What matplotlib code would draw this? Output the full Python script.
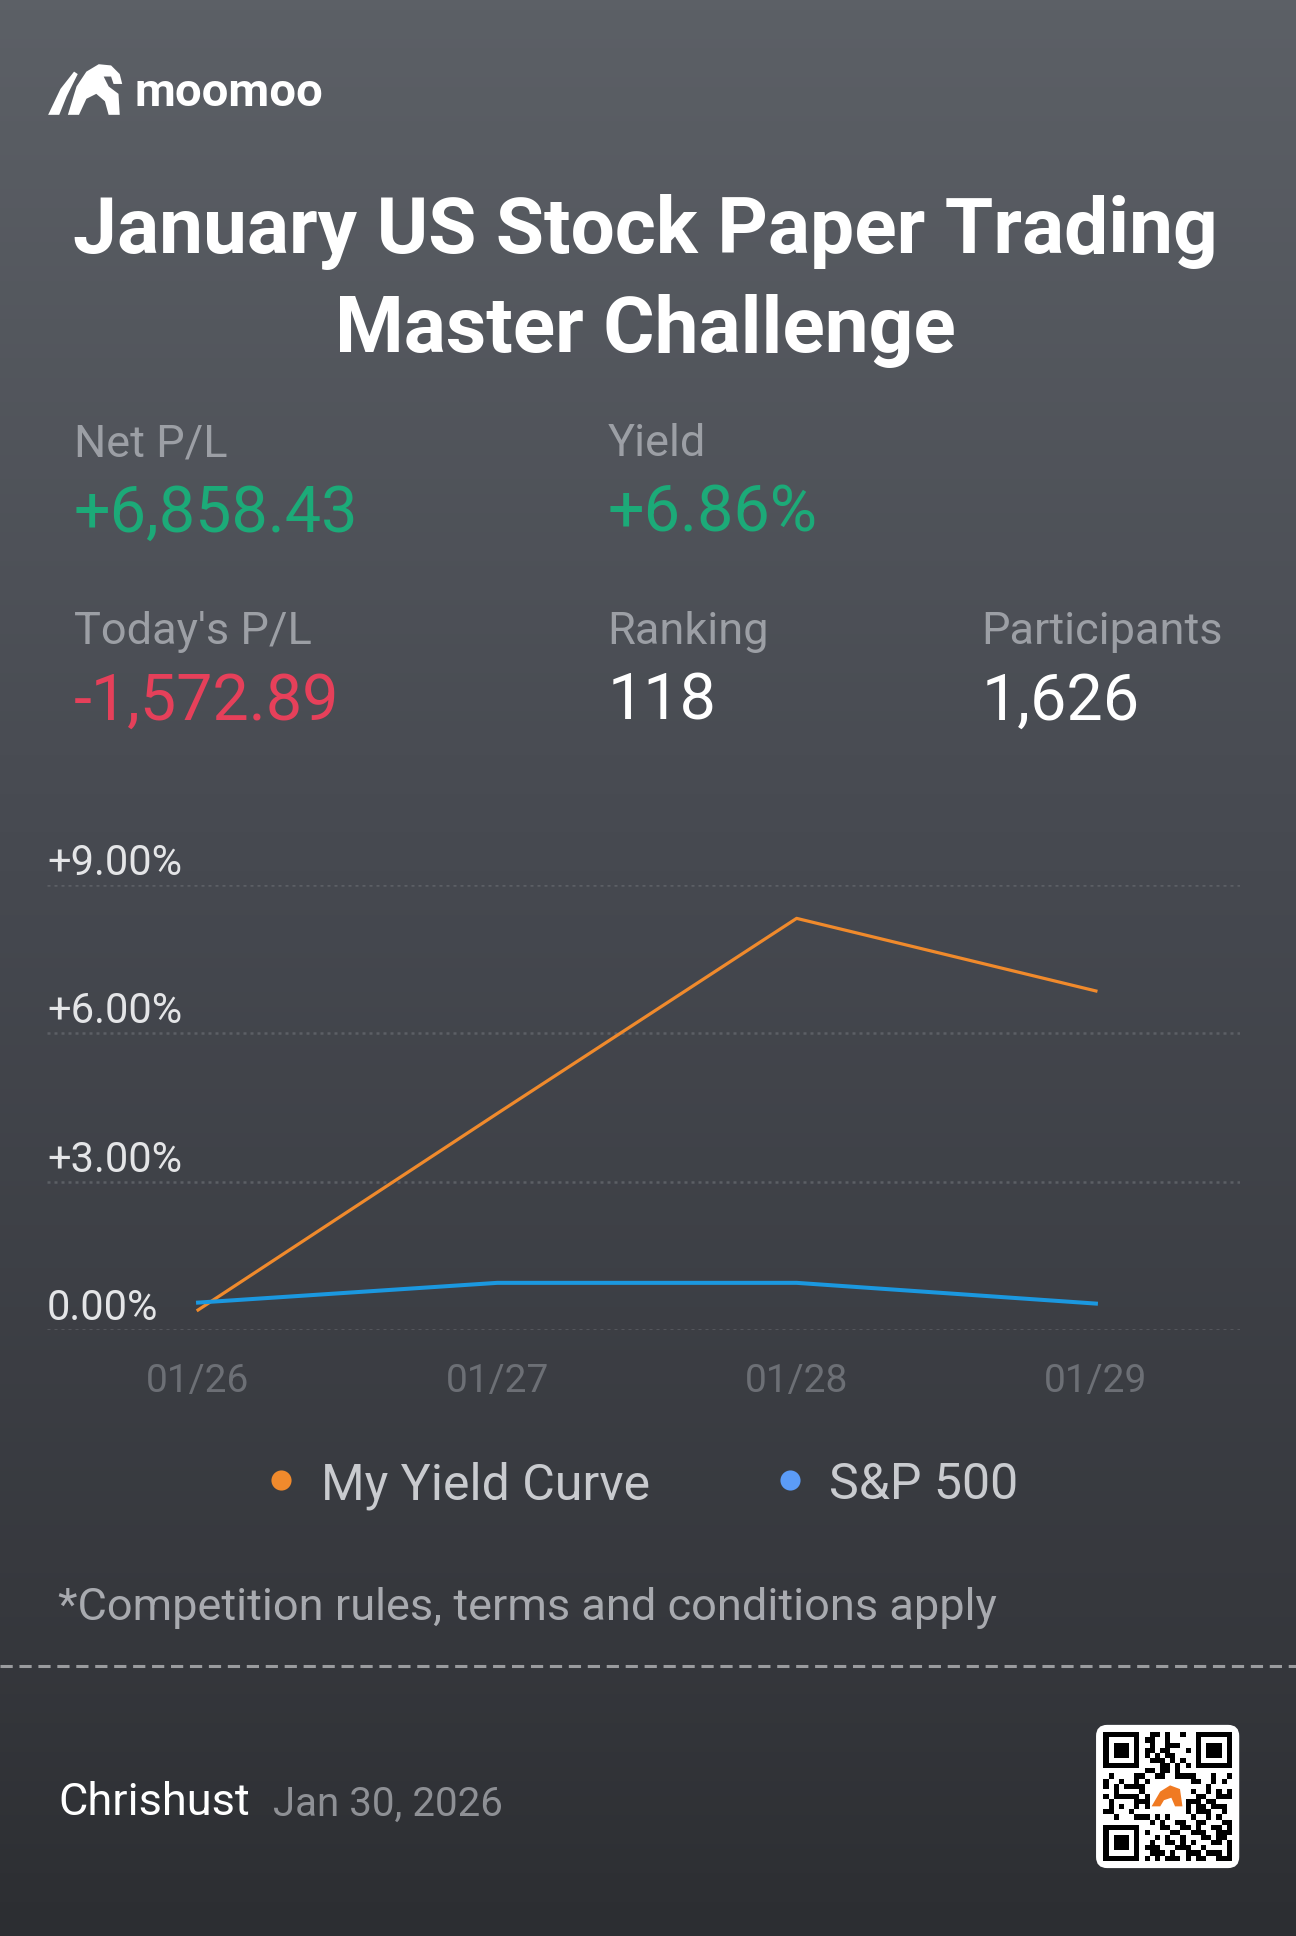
import numpy as np
import matplotlib
matplotlib.use("Agg")
import matplotlib.pyplot as plt
from matplotlib.patches import Polygon, FancyBboxPatch, Rectangle
from matplotlib.colors import LinearSegmentedColormap

plt.rcParams["font.family"] = ["Roboto", "DejaVu Sans"]

# data
dates = ["01/26", "01/27", "01/28", "01/29"]
my_yield = [0.40, 4.38, 8.33, 6.86]
sp500 = [0.55, 0.95, 0.95, 0.53]
series_names = ["My Yield Curve", "S&P 500"]
y_ticks = [0, 3, 6, 9]
y_tick_labels = ["0.00%", "+3.00%", "+6.00%", "+9.00%"]

stat_labels = ["Net P/L", "Yield", "Today's P/L", "Ranking", "Participants"]
stat_values = ["+6,858.43", "+6.86%", "-1,572.89", "118", "1,626"]

ORANGE = "#f08a2c"
BLUE = "#1b98e0"
GRAY = "#9c9fa5"

fig = plt.figure(figsize=(12.96, 19.36), dpi=100)

# background, coordinates in 1050 x 1568 layout units
bg = fig.add_axes([0, 0, 1, 1])
bg.set_xlim(0, 1050)
bg.set_ylim(1568, 0)
bg.axis("off")
cmap = LinearSegmentedColormap.from_list(
    "bg", [(0.0, "#5c6066"), (0.45, "#464950"), (0.86, "#35373c"), (1.0, "#2c2e32")])
grad = np.linspace(0, 1, 400).reshape(-1, 1)
bg.imshow(grad, cmap=cmap, extent=[0, 1050, 1568, 0], aspect="auto", zorder=0)

# logo
wing = [(39, 93), (49, 72), (60, 58), (63, 60), (54, 78), (48, 93)]
body = [(55, 93), (62, 70), (70, 58), (80, 52), (90, 53), (97, 60), (99, 68),
        (92, 68), (90, 62), (84, 62), (88, 70), (96, 76), (97, 93), (88, 93),
        (85, 82), (78, 76), (70, 80), (64, 93)]
bg.add_patch(Polygon(wing, closed=True, fc="white", ec="none", zorder=2))
bg.add_patch(Polygon(body, closed=True, fc="white", ec="none", zorder=2))
bg.text(109, 75, "moomoo", color="white", fontsize=34, fontweight="bold",
        va="center", ha="left", zorder=2)

# title
bg.text(523, 188, "January US Stock Paper Trading", color="white", fontsize=56.5,
        fontweight="bold", ha="center", va="center")
bg.text(523, 268, "Master Challenge", color="white", fontsize=56.5,
        fontweight="bold", ha="center", va="center")

# stats
stat_pos = [(60, 360), (492, 360), (60, 512), (492, 512), (795, 512)]
val_colors = ["#1caa78", "#1caa78", "#e6405a", "white", "white"]
for (x, y), lab, val, c in zip(stat_pos, stat_labels, stat_values, val_colors):
    bg.text(x, y, lab, color=GRAY, fontsize=32.5, ha="left", va="center")
    bg.text(x, y + 56, val, color=c, fontsize=46.5, ha="left", va="center")

# chart
left, right = 38 / 1050, 1005 / 1050
bottom, top = 1 - 1077 / 1568, 1 - 717 / 1568
ax = fig.add_axes([left, bottom, right - left, top - bottom])
ax.set_facecolor("none")
x = np.arange(len(dates))
ax.set_xlim(-0.505, 3.483)
ax.set_ylim(0, 9)
for t in y_ticks:
    ax.axhline(t, color="#5c5f65", lw=1.8, ls=(0, (1.2, 1.6)), zorder=1)
for t, lab in zip(y_ticks, y_tick_labels):
    ax.annotate(lab, xy=(0, t), xycoords=("axes fraction", "data"),
                xytext=(0, 10), textcoords="offset pixels",
                color="#e4e5e7", fontsize=30, ha="left", va="baseline")
ax.plot(x, my_yield, color=ORANGE, lw=2.3, clip_on=False, zorder=3)
ax.plot(x, sp500, color=BLUE, lw=2.9, clip_on=False, zorder=3)
ax.set_xticks(x, dates)
ax.set_yticks([])
ax.tick_params(axis="x", length=0, pad=24, labelsize=28, labelcolor="#6c6f75")
for s in ax.spines.values():
    s.set_visible(False)

# legend
legend_dots = [(228, ORANGE, 260), (640, "#5b9cf7", 672)]
for (dx, dc, tx), name in zip(legend_dots, series_names):
    bg.scatter([dx], [1199], s=210, color=dc, zorder=3, linewidths=0)
    bg.text(tx, 1203, name, color="#c9cbcf", fontsize=36, ha="left", va="center")

bg.text(47, 1302, "*Competition rules, terms and conditions apply", color="#a8aaaf",
        fontsize=32.5, ha="left", va="center")

# separator
bg.plot([0, 1050], [1349, 1349], color="#9a9b9e", lw=2.2, ls=(0, (4, 2.2)), zorder=2)

# footer
bg.text(47, 1460, "Chrishust", color="white", fontsize=32.5, ha="left", va="center")
bg.text(221, 1461, "Jan 30, 2026", color="#8e9095", fontsize=29,
        ha="left", va="center")

# qr code
qx0, qy0, qs = 888, 1397, 116
bg.add_patch(FancyBboxPatch((qx0 + 4, qy0 + 4), qs - 8, qs - 8,
                            boxstyle="round,pad=4,rounding_size=9",
                            fc="white", ec="none", zorder=3))
n = 25
m = (qs - 12) / n
ox, oy = qx0 + 6, qy0 + 6


def finder(i0, j0):
    bg.add_patch(Rectangle((ox + j0 * m, oy + i0 * m), 7 * m, 7 * m, fc="black", ec="none", zorder=4))
    bg.add_patch(Rectangle((ox + (j0 + 1) * m, oy + (i0 + 1) * m), 5 * m, 5 * m, fc="white", ec="none", zorder=5))
    bg.add_patch(Rectangle((ox + (j0 + 2) * m, oy + (i0 + 2) * m), 3 * m, 3 * m, fc="black", ec="none", zorder=6))


for i in range(n):
    for j in range(n):
        if (i < 8 and j < 8) or (i < 8 and j > n - 9) or (i > n - 9 and j < 8):
            continue
        if 9 <= i <= 15 and 9 <= j <= 15:
            continue
        if ((i * 7 + j * 11) ^ (i * j)) % 3 == 0 or (i + 2 * j) % 5 == 0:
            bg.add_patch(Rectangle((ox + j * m, oy + i * m), m, m, fc="black", ec="none", zorder=4))
finder(0, 0)
finder(0, n - 7)
finder(n - 7, 0)
cx, cy = qx0 + qs / 2, qy0 + qs / 2
mini = [(cx - 13, cy + 8), (cx - 6, cy - 4), (cx + 2, cy - 9), (cx + 10, cy - 6),
        (cx + 12, cy + 8), (cx + 6, cy + 8), (cx + 3, cy + 1), (cx - 3, cy + 3), (cx - 6, cy + 8)]
bg.add_patch(Polygon(mini, closed=True, fc="#f07a22", ec="none", zorder=6))

fig.savefig("out.png", dpi=100)
